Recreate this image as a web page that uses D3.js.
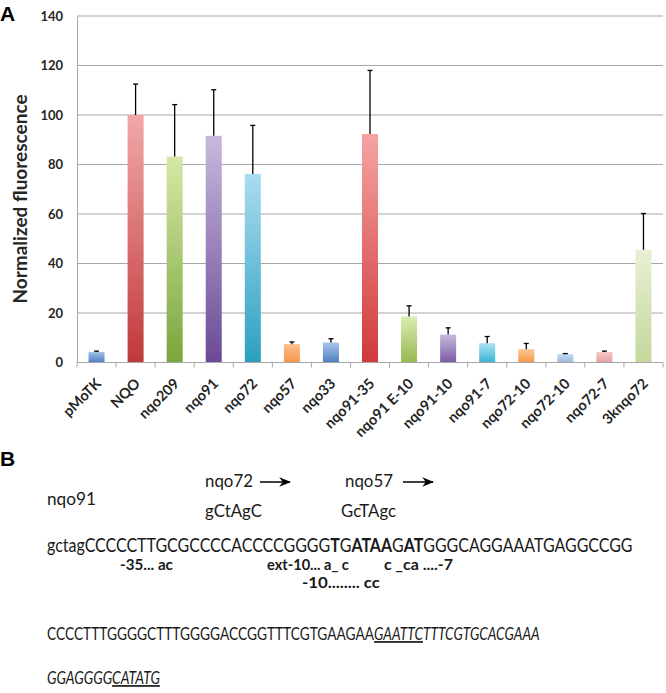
<!DOCTYPE html>
<html><head><meta charset="utf-8">
<script src="https://cdn.jsdelivr.net/npm/d3@7"></script>
<style>body{margin:0;background:#fff}svg{display:block}</style>
</head><body>
<script>
const categories = ["pMoTK","NQO","nqo209","nqo91","nqo72","nqo57","nqo33","nqo91-35","nqo91 E-10","nqo91-10","nqo91-7","nqo72-10","nqo72-10","nqo72-7","3knqo72"];
const values = [4.2,100,83.2,91.6,76.2,7.4,8.1,92.3,18.6,11.3,7.8,5.4,3.4,4.2,45.5];
const errors = [0.4,12.5,21,18.6,19.6,0.9,1.5,25.7,4.3,2.7,2.7,2.3,0.2,0.4,14.7];
const topColors = ["#9dbde6","#f2a8a8","#d6e8a6","#c8b8de","#aadcf0","#fbc08e","#a8c6ec","#f5a3a3","#dcebb2","#c8b8de","#aee2f2","#fcc896","#c8dbf2","#f6c6c6","#e8f1d4"];
const botColors = ["#4f7fc0","#c0393b","#7aa63c","#6a4a95","#2b9fc0","#f79646","#4f7fc0","#d03a3b","#95b94f","#7a5ca2","#38b3d3","#f79646","#9ab8dc","#e6a2a2","#c4d89c"];
const yTicks = [0,20,40,60,80,100,120,140];

const W = 666, H = 693;
const svg = d3.select("body").append("svg").attr("width", W).attr("height", H);
const m = {left: 77, right: 663, top: 16, bottom: 362.5};

const x = d3.scaleBand().domain(d3.range(categories.length)).range([m.left, m.right]).paddingInner(0.59).paddingOuter(0.295);
const xEdge = d3.scaleBand().domain(d3.range(categories.length)).range([m.left, m.right]).padding(0);
const y = d3.scaleLinear().domain([0,140]).range([m.bottom, m.top]);

const defs = svg.append("defs");
categories.forEach((c,i) => {
  const g = defs.append("linearGradient").attr("id","g"+i).attr("x1",0).attr("y1",0).attr("x2",0).attr("y2",1);
  g.append("stop").attr("offset","0%").attr("stop-color", topColors[i]);
  g.append("stop").attr("offset","100%").attr("stop-color", botColors[i]);
});

// gridlines
svg.append("g").selectAll("line").data(yTicks).join("line")
  .attr("x1", m.left).attr("x2", m.right).attr("y1", d=>y(d)).attr("y2", d=>y(d))
  .attr("stroke", "#a6a6a6").attr("stroke-width", 1);

// y axis
const yAxis = d3.axisLeft(y).tickValues(yTicks).tickSize(0).tickPadding(14);
const ya = svg.append("g").attr("transform", `translate(${m.left},0)`).call(yAxis);
ya.select(".domain").attr("stroke","#a6a6a6");
ya.selectAll("text").attr("font-family","Lato").attr("font-weight","bold").attr("font-size","13px").attr("fill","#262626");

// bars
svg.append("g").selectAll("rect").data(values).join("rect")
  .attr("x", (d,i)=>x(i)).attr("width", x.bandwidth())
  .attr("y", d=>y(d)).attr("height", d=>y(0)-y(d))
  .attr("fill", (d,i)=>`url(#g${i})`);

// error bars
const eb = svg.append("g").attr("stroke","#000").attr("stroke-width",1.3);
values.forEach((v,i)=>{
  const cx = x(i)+x.bandwidth()/2;
  eb.append("line").attr("x1",cx).attr("x2",cx).attr("y1",y(v)).attr("y2",y(v+errors[i]));
  eb.append("line").attr("x1",cx-2.5).attr("x2",cx+2.5).attr("y1",y(v+errors[i])).attr("y2",y(v+errors[i]));
});

// x axis
const xa = svg.append("g").attr("transform", `translate(0,${m.bottom})`);
xa.append("line").attr("x1",m.left).attr("x2",m.right).attr("stroke","#a6a6a6");
const edges = d3.range(categories.length).map(i=>xEdge(i)).concat([m.right]);
xa.selectAll("line.t").data(edges).join("line").attr("class","t")
  .attr("x1",d=>d).attr("x2",d=>d).attr("y1",0).attr("y2",5).attr("stroke","#a6a6a6");
xa.selectAll("text").data(categories).join("text")
  .attr("transform",(d,i)=>`translate(${x(i)+x.bandwidth()/2+5.5},${22}) rotate(-45)`)
  .attr("text-anchor","end")
  .attr("font-family","Lato").attr("font-weight","bold").attr("font-size","14.5px").attr("fill","#262626")
  .text(d=>d);

// y label
svg.append("text").attr("transform","translate(27,199) rotate(-90)")
  .attr("text-anchor","middle").attr("font-family","Lato").attr("font-weight","bold")
  .attr("font-size","19px").attr("fill","#262626").text("Normalized fluorescence");

// panel letters
svg.append("text").attr("x",0).attr("y",21).attr("font-family","Liberation Sans").attr("font-weight","bold").attr("font-size","21px").text("A");
svg.append("text").attr("x",0).attr("y",466).attr("font-family","Liberation Sans").attr("font-weight","bold").attr("font-size","21px").text("B");

// panel B
const fB = "Lato";
function fit(sel, xp, yp, target) {
  const w = sel.node().getComputedTextLength();
  sel.attr("x",0).attr("y",0).attr("transform",`translate(${xp},${yp}) scale(${target/w},1)`);
  return sel;
}
function t(xp, yp, txt, size, target, bold) {
  const e = svg.append("text").attr("font-family",fB)
    .attr("font-size", size).attr("fill","#1a1a1a").text(txt);
  if (bold) e.attr("font-weight","bold");
  return fit(e, xp, yp, target);
}
t(47,505,"nqo91","18px",49);
t(205,487,"nqo72","18px",48);
t(205,517,"gCtAgC","18px",57);
t(345,487,"nqo57","18px",48);
t(341,517,"GcTAgc","18px",55);

defs.append("marker").attr("id","arr").attr("viewBox","0 0 10 10").attr("refX",9).attr("refY",5)
  .attr("markerWidth",8).attr("markerHeight",8).attr("orient","auto")
  .append("path").attr("d","M0,1 L10,5 L0,9 L3,5 Z").attr("fill","#000");
svg.append("line").attr("x1",260).attr("x2",290).attr("y1",482).attr("y2",482).attr("stroke","#000").attr("stroke-width",1.5).attr("marker-end","url(#arr)");
svg.append("line").attr("x1",403).attr("x2",433).attr("y1",482).attr("y2",482).attr("stroke","#000").attr("stroke-width",1.5).attr("marker-end","url(#arr)");

// sequence line 1
const s1 = svg.append("text").attr("font-family",fB).attr("font-size","19.5px").attr("fill","#1a1a1a");
[["gctagCCCCCTTGCGCCCCACCCCGGGG",false],["T",true],["G",false],["ATAA",true],["G",false],["AT",true],["GGGCAGGAAATGAGGCCGG",false]]
  .forEach(([s,b])=>s1.append("tspan").attr("font-weight",b?"bold":"normal").text(s));
fit(s1, 47, 552, 586);

t(120,570,"-35... ac","15.5px",53,true);
t(267,570,"ext-10... a_ c","15.5px",82,true);
t(302,588,"-10........ cc","15.5px",78,true);
t(384,570,"c _ca ....-7","15.5px",69,true);

// line 3
const s3 = svg.append("text").attr("font-family",fB).attr("font-size","17px").attr("fill","#1a1a1a");
s3.append("tspan").text("CCCCTTTGGGGCTTTGGGGACCGGTTTCGTGAAGAA");
s3.append("tspan").attr("font-style","italic").attr("text-decoration","underline").text("GAATTC");
s3.append("tspan").attr("font-style","italic").text("TTTCGTGCACGAAA");
fit(s3, 47, 640, 493);

const s4 = svg.append("text").attr("font-family",fB).attr("font-size","17px").attr("fill","#1a1a1a");
s4.append("tspan").attr("font-style","italic").text("GGAGGGG");
s4.append("tspan").attr("font-style","italic").attr("text-decoration","underline").text("CATATG");
fit(s4, 47, 684, 113);
</script>
</body></html>
